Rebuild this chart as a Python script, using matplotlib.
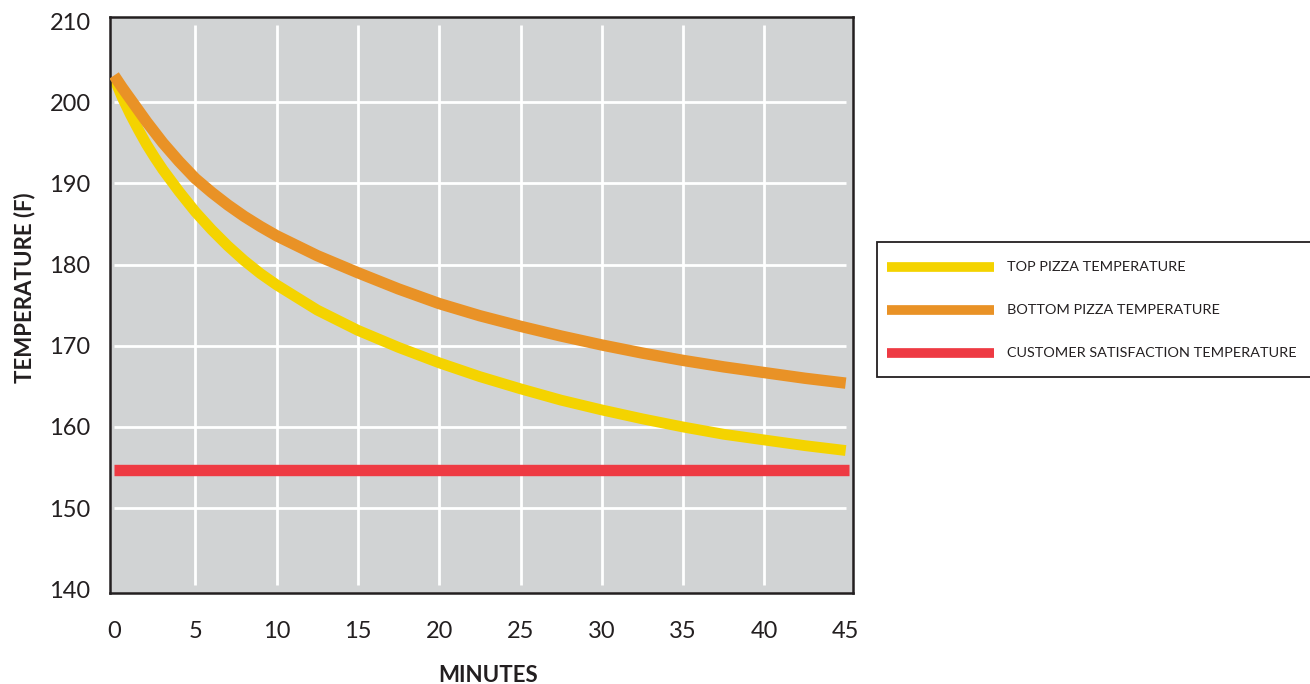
import matplotlib.pyplot as plt
from matplotlib.patches import Rectangle
from matplotlib.lines import Line2D

# minutes after leaving the oven
minutes = [0, 0.5, 1, 1.5, 2, 2.5, 3, 4, 5, 6, 7, 8, 9, 10, 12.5, 15, 17.5,
           20, 22.5, 25, 27.5, 30, 32.5, 35, 37.5, 40, 42.5, 45]
top_temp = [203.0, 200.6, 198.5, 196.6, 194.8, 193.2, 191.7, 189.0, 186.5, 184.3,
            182.3, 180.5, 178.9, 177.5, 174.4, 171.9, 169.8, 167.9, 166.2, 164.7,
            163.3, 162.1, 161.0, 160.0, 159.1, 158.4, 157.7, 157.1]
bottom_temp = [203.3, 201.8, 200.4, 199.0, 197.6, 196.3, 195.0, 192.7, 190.6, 188.9,
               187.35, 185.95, 184.7, 183.55, 181.1, 179.0, 177.0, 175.2, 173.7, 172.4,
               171.2, 170.1, 169.1, 168.2, 167.4, 166.7, 166.0, 165.4]
satisfaction_temp = 154.7

x_ticks = [0, 5, 10, 15, 20, 25, 30, 35, 40, 45]
y_ticks = [140, 150, 160, 170, 180, 190, 200, 210]

labels = ["TOP PIZZA TEMPERATURE", "BOTTOM PIZZA TEMPERATURE",
          "CUSTOMER SATISFACTION TEMPERATURE"]

YELLOW = "#f4d300"
ORANGE = "#e99226"
RED = "#ee3a43"
BG = "#d1d3d4"
INK = "#231f20"

plt.rcParams['font.family'] = ['Lato', 'DejaVu Sans']

W, H = 1310, 684
fig = plt.figure(figsize=(W / 100, H / 100), dpi=100)
ax = fig.add_axes([110 / W, 1 - 593 / H, (853 - 110) / W, (593 - 17) / H])
ax.set_facecolor(BG)

ax.set_xlim(-0.25, 45.45)
ax.set_ylim(139.55, 210.5)

# grid lines stop a little short of the frame
ax.hlines(y_ticks[1:-1], 0, 45, color="white", lw=2, zorder=1)
ax.vlines(x_ticks[1:-1], 140.5, 209.5, color="white", lw=2, zorder=1)

ax.plot(minutes, top_temp, color=YELLOW, lw=7.8, solid_capstyle='butt',
        solid_joinstyle='round', zorder=2)
ax.plot(minutes, bottom_temp, color=ORANGE, lw=8.2, solid_capstyle='butt',
        solid_joinstyle='round', zorder=3)
ax.plot([0, 45.2], [satisfaction_temp] * 2, color=RED, lw=8.2,
        solid_capstyle='butt', zorder=2)

ax.set_xticks(x_ticks)
ax.set_yticks(y_ticks)
ax.tick_params(length=0, labelsize=17, colors=INK)
ax.tick_params(axis='x', pad=20)
ax.tick_params(axis='y', pad=14)
for s in ax.spines.values():
    s.set_color(INK)
    s.set_linewidth(1.8)

fig.text(25 / W, 1 - 288 / H, "TEMPERATURE (F)", rotation=90, ha='center',
         va='center', fontsize=16, fontweight='bold', color=INK)
fig.text(488 / W, 1 - 675 / H, "MINUTES", ha='center', va='center',
         fontsize=16, fontweight='bold', color=INK)

# legend box, cut by the right edge of the figure
fig.patches.append(Rectangle((877 / W, 1 - 377 / H), 500 / W, 135 / H,
                             transform=fig.transFigure, facecolor='white',
                             edgecolor=INK, lw=1.3))
for i, (lab, col) in enumerate(zip(labels, [YELLOW, ORANGE, RED])):
    yy = 1 - (267 + 43 * i) / H
    fig.lines.append(Line2D([887 / W, 994 / W], [yy, yy], color=col, lw=7,
                            solid_capstyle='butt', transform=fig.transFigure))
    fig.text(1007 / W, yy, lab, ha='left', va='center', fontsize=10.4, color=INK)

fig.savefig("out.png", dpi=100)
